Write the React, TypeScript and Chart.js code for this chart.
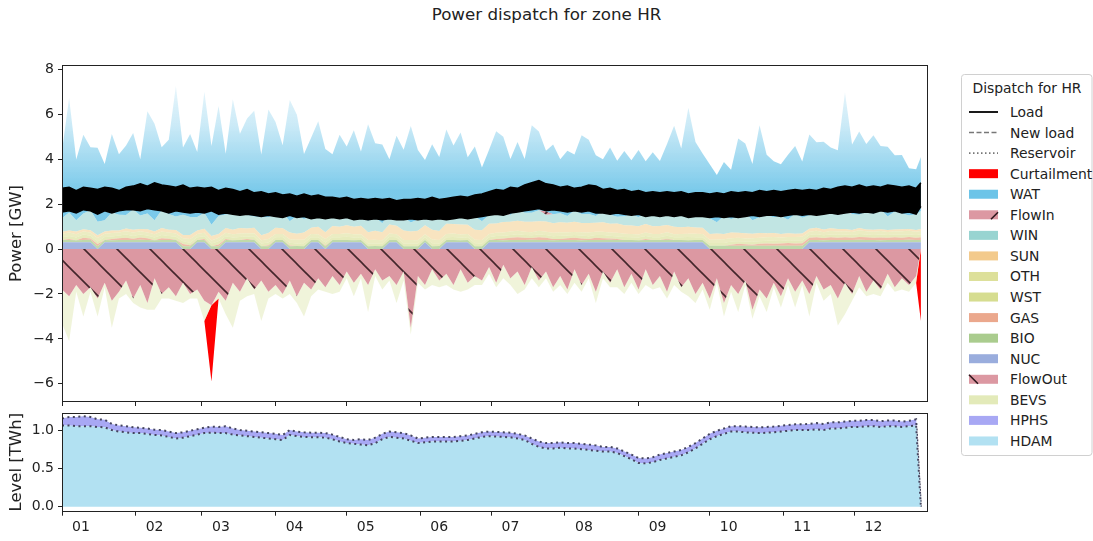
import React, { useEffect, useRef } from 'react';
import { Chart, registerables } from 'chart.js';
Chart.register(...registerables);

const FONT = "'DejaVu Sans', 'Liberation Sans', sans-serif";
const MONTH_LABELS = ['01', '02', '03', '04', '05', '06', '07', '08', '09', '10', '11', '12'];
const MONTH_START_DAYS = [0, 31, 59, 90, 120, 151, 181, 212, 243, 273, 304, 334];
const POWER_TICKS = [-6, -4, -2, 0, 2, 4, 6, 8];
const LEVEL_TICKS = [0, 0.5, 1.0];
const DAY_STEP = 3;
const LAST_DAY = 362;

// ---- Positive generation stack (GW), 3-day samples ----
const NUC = [.3,.3,.3,.3,.3,0,.3,.3,.3,.3, .3,.3,.3,.3,.3,.3,.3,0,0,.3, .3,0,0,.3,.3,.3,.3,.3,0,0, .3,.3,0,0,0,.3,.3,0,.3,.3, .3,.3,.3,0,0,0,.3,.3,0,0, 0,.3,0,0,.3,.3,.3,.3,0,0, .3,.3,.3,.3,.3,.3,.3,.3,.3,.3, .3,.3,.3,.3,.3,.3,.3,.3,.3,.3, .3,.3,.3,.3,.3,.3,.3,.3,.3,.3, .3,0,0,0,0,0,0,0,0,0, 0,0,0,0,0,.3,.3,.3,.3,.3, .3,.3,.3,.3,.3,.3,.3,.3,.3,.3, .3,.3];
const BIO = [.10,.10,.09,.10,.11,.12,.10,.09,.10,.10, .10,.11,.10,.09,.10,.10,.11,.12,.12,.10, .10,.12,.12,.10,.09,.10,.10,.11,.12,.12, .10,.10,.12,.13,.12,.10,.10,.12,.10,.10, .10,.09,.10,.12,.13,.12,.10,.10,.12,.12, .12,.10,.12,.13,.10,.10,.09,.10,.12,.12, .10,.10,.09,.10,.10,.10,.11,.10,.10,.09, .10,.10,.10,.09,.10,.10,.10,.11,.10,.10, .10,.09,.10,.10,.10,.11,.10,.10,.09,.10, .10,.14,.15,.15,.14,.15,.15,.14,.15,.15, .15,.14,.15,.15,.14,.10,.10,.09,.10,.10, .10,.10,.11,.10,.10,.09,.10,.10,.10,.11, .10,.10];
const GAS = [0,.05,0,.10,.06,.10,0,.05,.08,.10, .06,.10,.08,0,.08,.06,0,.10,.05,0, .04,0,.08,.05,0,0,.04,0,0,.05, 0,0,.04,0,0,0,0,.04,0,0, 0,0,0,0,0,0,0,0,0,0, 0,0,0,0,0,0,0,0,0,0, 0,.05,.08,.10,.12,.10,.08,.12,.10,.06, .05,.08,.10,.08,.05,.10,.08,.06,.04,0, 0,0,.04,0,0,.05,0,0,0,0, 0,0,0,0,.05,.08,.06,.05,.08,.10, .08,.10,.12,.10,.12,.10,.12,.10,.12,.10, .12,.10,.12,.12,.10,.12,.10,.12,.10,.12, .10,.12];
const WST = [.12,.13,.12,.14,.12,.11,.13,.12,.12,.14, .12,.13,.12,.12,.14,.12,.13,.12,.11,.12, .13,.12,.14,.12,.12,.13,.12,.14,.12,.12, .12,.13,.12,.12,.14,.12,.12,.13,.12,.12, .14,.12,.12,.13,.12,.12,.14,.12,.12,.13, .12,.12,.14,.12,.12,.13,.12,.12,.14,.12, .12,.13,.12,.12,.14,.12,.12,.13,.12,.12, .14,.12,.12,.13,.12,.12,.14,.12,.12,.13, .12,.12,.14,.12,.12,.13,.12,.12,.14,.12, .12,.13,.12,.12,.14,.12,.12,.13,.12,.12, .14,.12,.12,.13,.12,.12,.14,.12,.12,.13, .12,.12,.14,.12,.12,.13,.12,.12,.14,.12, .12,.13];
const OTH = [.15,.16,.15,.14,.15,.16,.15,.15,.14,.15, .16,.15,.14,.15,.16,.15,.15,.14,.16,.15, .15,.14,.16,.15,.15,.16,.14,.15,.15,.16, .15,.14,.15,.16,.15,.15,.14,.16,.15,.15, .16,.15,.14,.15,.16,.15,.15,.14,.16,.15, .15,.14,.16,.15,.15,.16,.14,.15,.15,.16, .15,.14,.15,.16,.15,.15,.14,.16,.15,.15, .16,.15,.14,.15,.16,.15,.15,.14,.16,.15, .15,.14,.16,.15,.15,.16,.14,.15,.15,.16, .15,.14,.15,.16,.15,.15,.14,.16,.15,.15, .16,.15,.14,.15,.16,.15,.15,.14,.16,.15, .15,.14,.16,.15,.15,.16,.14,.15,.15,.16, .15,.15];
const SUN = [.10,.08,.12,.10,.09,.12,.10,.11,.08,.12, .12,.10,.14,.12,.15,.13,.16,.14,.18,.15, .18,.20,.17,.22,.20,.24,.21,.25,.22,.26, .28,.25,.30,.27,.32,.28,.33,.30,.35,.32, .36,.33,.38,.35,.40,.36,.40,.38,.42,.38, .42,.40,.44,.40,.45,.42,.44,.41,.45,.43, .45,.42,.46,.43,.45,.44,.46,.42,.45,.43, .44,.42,.45,.41,.43,.40,.42,.39,.41,.38, .38,.36,.37,.34,.35,.32,.33,.30,.31,.28, .28,.26,.27,.24,.25,.22,.23,.20,.21,.18, .18,.16,.17,.15,.15,.13,.14,.12,.12,.11, .10,.09,.10,.08,.09,.08,.09,.08,.09,.08, .08,.09];
const WIN = [.6,.8,.5,.7,.9,.6,.5,.8,.7,.6, .9,.6,.7,.5,.8,.7,.6,.9,.8,.6, .7,.5,.8,.6,.7,.9,.6,.5,.8,.7, .6,.7,.5,.8,.6,.5,.7,.6,.5,.6, .5,.6,.4,.5,.6,.4,.5,.5,.6,.4, .5,.4,.5,.6,.4,.5,.4,.5,.6,.4, .4,.5,.4,.3,.5,.4,.4,.5,.3,.4, .4,.3,.5,.4,.4,.3,.5,.4,.3,.4, .5,.4,.5,.6,.4,.5,.6,.5,.7,.5, .6,.7,.5,.8,.6,.7,.9,.6,.7,.8, .7,.8,.6,.9,.7,.6,.8,.7,.9,.6, .8,.7,.6,.8,.7,.9,.6,.8,.7,.6, .7,.8];
const FLOWIN = [0,0,0,0,0,0,0,0,0,0, 0,0,0,0,0,0,0,0,0,0, 0,0,0,0,0,0,0,0,0,0, 0,0,0,0,0,0,0,0,0,0, 0,0,0,0,0,0,0,0,0,0, 0,0,0,0,0,0,0,0,0,0, 0,0,.1,0,0,0,0,0,.15,0, 0,0,0,0,0,0,0,0,0,0, 0,0,0,0,0,0,0,.1,0,0, 0,0,0,0,0,0,0,0,0,0, 0,0,0,0,0,0,0,0,0,0, .08,0,0,0,0,0,0,0,0,0, 0,0];
const WAT = [3.0,5.1,2.7,3.5,2.8,3.3,2.5,3.5,2.7,3.1, 3.4,2.5,4.55,4.3,2.8,3.3,5.8,3.0,3.7,2.9, 5.4,3.5,4.9,2.7,5.1,3.3,4.3,4.7,2.8,4.8, 4.1,3.0,5.4,4.5,2.9,3.5,4.0,3.1,2.7,3.5, 3.0,3.7,2.9,4.3,3.3,3.5,2.4,3.5,3.0,4.3, 3.1,2.5,3.3,2.7,3.8,3.0,3.7,2.5,3.1,2.4, 2.9,3.6,3.3,2.5,3.0,2.4,3.9,3.5,2.7,3.1, 2.4,2.9,2.5,3.5,3.3,2.7,2.3,3.0,2.5,2.9, 2.4,3.0,2.3,2.7,2.5,3.1,3.9,2.9,4.6,3.3, 2.7,2.4,2.1,2.4,2.2,3.5,3.1,2.5,4.1,2.7, 2.5,2.3,2.9,3.0,2.5,3.6,3.0,3.2,2.7,2.9, 5.2,3.1,3.7,3.0,3.5,2.8,3.1,2.5,2.6,2.1, 2.0,2.4];

// ---- Negative side (GW) ----
const FLOWOUT = [-1.8,-2.1,-1.6,-2.0,-1.7,-2.2,-1.5,-2.3,-1.9,-1.4, -2.2,-1.6,-2.4,-1.3,-2.0,-1.7,-2.1,-1.5,-2.0,-1.8, -2.3,-2.5,-1.9,-2.3,-1.5,-1.9,-1.3,-1.8,-1.4,-1.9, -1.6,-2.0,-1.4,-2.1,-1.5,-1.8,-1.3,-1.7,-1.2,-1.6, -1.0,-1.5,-1.1,-1.6,-0.9,-1.4,-1.2,-1.6,-1.0,-3.5, -1.2,-1.6,-0.9,-1.4,-1.1,-1.6,-0.9,-1.5,-1.2,-1.4, -0.8,-1.5,-0.7,-1.3,-1.0,-1.6,-0.8,-1.4,-1.0,-1.7, -1.2,-1.8,-0.9,-1.6,-1.1,-1.9,-1.0,-1.5,-0.9,-1.7, -1.1,-1.8,-0.9,-1.6,-1.2,-1.9,-1.0,-1.7,-1.3,-2.0, -1.5,-2.2,-1.3,-2.4,-1.6,-2.0,-1.4,-2.7,-1.8,-2.2, -1.5,-2.1,-1.3,-1.9,-1.4,-2.0,-1.2,-1.8,-1.6,-2.2, -1.5,-2.0,-1.2,-1.9,-1.4,-1.8,-1.1,-1.7,-1.3,-1.6, -1.2,0];
const BEVS = [-1.5,-2.0,-0.3,-1.0,-0.2,-0.8,-0.2,-1.2,-0.3,-0.6, -0.2,-1.0,-0.3,-1.4,-0.2,-0.5,-0.2,-0.9,-0.2,-0.4, -0.9,0,-0.3,-0.6,-2.0,-0.4,-0.8,-0.2,-1.8,-0.3, -0.4,-0.2,-0.6,-0.3,-1.5,-0.3,-0.5,-0.2,-0.8,-0.3, -0.3,-0.6,-0.2,-1.2,-0.3,-0.4,-0.2,-0.8,-0.4,-0.3, -0.3,-0.2,-0.7,-0.3,-0.5,-0.2,-1.0,-0.3,-0.4,-0.2, -0.3,-0.2,-0.6,-0.3,-1.0,-0.2,-0.5,-0.3,-0.3,-0.2, -0.4,-0.2,-0.6,-0.3,-0.2,-0.5,-0.3,-0.2,-0.8,-0.3, -0.4,-0.2,-0.7,-0.2,-0.5,-0.3,-0.6,-0.2,-0.8,-0.4, -0.3,-0.5,-0.2,-0.6,-0.3,-0.8,-0.2,-0.4,-0.3,-0.6, -0.2,-0.5,-0.3,-0.7,-0.2,-1.0,-0.3,-0.5,-0.4,-1.2, -1.4,-0.3,-0.5,-0.2,-0.6,-0.3,-0.4,-0.2,-0.5,-0.3, -0.3,0];
const CURTAILMENT = [0,0,0,0,0,0,0,0,0,0, 0,0,0,0,0,0,0,0,0,0, 0,-3.4,0,0,0,0,0,0,0,0, 0,0,0,0,0,0,0,0,0,0, 0,0,0,0,0,0,0,0,0,0, 0,0,0,0,0,0,0,0,0,0, 0,0,0,0,0,0,0,0,0,0, 0,0,0,0,0,0,0,0,0,0, 0,0,0,0,0,0,0,0,0,0, 0,0,0,0,0,0,0,0,0,0, 0,0,0,0,0,0,0,0,0,0, 0,0,0,0,0,0,0,0,0,0, 0,-3.2];

// ---- Load (daily min / max envelope, GW) ----
const LOAD_HIGH = [2.7,2.75,2.6,2.75,2.7,2.65,2.75,2.7,2.6,2.75, 2.8,2.9,2.8,2.95,2.85,2.8,2.75,2.85,2.7,2.75, 2.7,2.75,2.6,2.7,2.65,2.55,2.65,2.5,2.55,2.45, 2.5,2.4,2.45,2.35,2.45,2.35,2.4,2.3,2.3,2.25, 2.3,2.2,2.25,2.2,2.25,2.2,2.25,2.15,2.2,2.2, 2.25,2.2,2.3,2.2,2.25,2.3,2.35,2.3,2.4,2.45, 2.55,2.65,2.6,2.75,2.7,2.85,2.95,3.05,2.9,2.85, 2.75,2.8,2.7,2.75,2.85,2.8,2.65,2.7,2.6,2.65, 2.55,2.6,2.5,2.55,2.5,2.55,2.5,2.55,2.45,2.5, 2.5,2.45,2.5,2.45,2.55,2.5,2.55,2.5,2.6,2.55, 2.6,2.55,2.6,2.65,2.6,2.65,2.6,2.7,2.65,2.75, 2.8,2.75,2.85,2.75,2.8,2.75,2.85,2.8,2.75,2.8, 2.7,2.95];
const LOAD_LOW = [1.65,1.7,1.6,1.75,1.7,1.55,1.7,1.6,1.7,1.75, 1.75,1.7,1.8,1.75,1.7,1.6,1.7,1.65,1.6,1.65, 1.6,1.7,1.55,1.6,1.55,1.5,1.55,1.5,1.45,1.5, 1.45,1.4,1.5,1.4,1.45,1.35,1.4,1.35,1.4,1.35, 1.4,1.3,1.35,1.3,1.35,1.3,1.35,1.3,1.3,1.35, 1.3,1.35,1.3,1.35,1.3,1.35,1.4,1.35,1.4,1.45, 1.5,1.55,1.5,1.6,1.65,1.7,1.75,1.8,1.7,1.75, 1.7,1.65,1.7,1.65,1.7,1.6,1.6,1.55,1.6,1.55, 1.5,1.55,1.45,1.5,1.45,1.5,1.45,1.5,1.4,1.45, 1.45,1.4,1.45,1.4,1.45,1.4,1.45,1.5,1.45,1.5, 1.5,1.45,1.5,1.55,1.5,1.55,1.5,1.55,1.6,1.55, 1.6,1.65,1.6,1.65,1.6,1.7,1.65,1.7,1.6,1.65, 1.55,1.9];

// ---- Reservoir levels (TWh) ----
const HDAM = [1.06,1.06,1.05,1.05,1.05,1.04,1.035,1.0,0.98,0.97, 0.96,0.96,0.95,0.935,0.93,0.91,0.89,0.9,0.92,0.94, 0.96,0.965,0.96,0.96,0.94,0.93,0.92,0.91,0.9,0.89, 0.88,0.87,0.935,0.92,0.91,0.905,0.905,0.9,0.88,0.85, 0.83,0.82,0.81,0.80,0.83,0.88,0.91,0.90,0.89,0.86, 0.83,0.84,0.85,0.85,0.85,0.85,0.86,0.87,0.89,0.91, 0.92,0.915,0.91,0.905,0.89,0.87,0.82,0.78,0.76,0.76, 0.77,0.76,0.76,0.75,0.74,0.73,0.72,0.72,0.70,0.66, 0.62,0.57,0.565,0.58,0.61,0.63,0.65,0.67,0.71,0.76, 0.82,0.88,0.92,0.95,0.98,0.98,0.97,0.965,0.96,0.965, 0.97,0.98,0.99,1.0,1.0,1.0,1.01,1.0,1.02,1.02, 1.03,1.04,1.04,1.05,1.05,1.04,1.05,1.05,1.04,1.05, 1.06,0];
const HPHS = [.09,.11,.12,.13,.12,.10,.10,.08,.08,.08, .075,.07,.07,.07,.07,.07,.07,.07,.07,.07, .07,.08,.08,.09,.08,.07,.07,.07,.07,.07, .07,.065,.065,.06,.06,.06,.06,.06,.06,.06, .05,.05,.07,.07,.07,.07,.07,.07,.07,.07, .06,.06,.06,.06,.06,.06,.06,.06,.06,.06, .06,.06,.06,.06,.06,.06,.07,.07,.07,.07, .07,.07,.07,.07,.07,.07,.06,.06,.06,.06, .06,.065,.065,.065,.07,.07,.07,.07,.07,.07, .07,.07,.07,.07,.07,.07,.075,.075,.075,.075, .075,.075,.075,.075,.075,.08,.08,.08,.08,.08, .08,.08,.08,.08,.08,.075,.075,.075,.07,.07, .08,0];

const COLORS = {
  curt: '#ff0000', wat: '#6cc4e8', flow: '#dc98a2', win: '#98d4d1', sun: '#f3ca8c',
  oth: '#dde09a', wst: '#d6dd90', gas: '#eba88d', bio: '#aacc8e', nuc: '#9aaddd',
  bevs: '#e3eab9', hphs: '#a8a8f4', hdam: '#b2e1f2',
};
const PLOT_FILL = {
  nuc: 'rgba(154,173,221,0.9)', bio: 'rgba(170,204,142,0.75)', gas: 'rgba(235,168,141,0.75)',
  wst: 'rgba(214,221,144,0.6)', oth: 'rgba(221,224,154,0.6)', sun: 'rgba(243,210,150,0.6)',
  win: 'rgba(152,212,209,0.6)', bevs: 'rgba(226,234,182,0.5)',
};

const LEGEND_ITEMS = [
  { label: 'Load', kind: 'line', color: '#1a1a1a' },
  { label: 'New load', kind: 'dash', color: '#777777' },
  { label: 'Reservoir', kind: 'dot', color: '#777777' },
  { label: 'Curtailment', kind: 'patch', color: COLORS.curt },
  { label: 'WAT', kind: 'patch', color: COLORS.wat },
  { label: 'FlowIn', kind: 'fwd', color: COLORS.flow },
  { label: 'WIN', kind: 'patch', color: COLORS.win },
  { label: 'SUN', kind: 'patch', color: COLORS.sun },
  { label: 'OTH', kind: 'patch', color: COLORS.oth },
  { label: 'WST', kind: 'patch', color: COLORS.wst },
  { label: 'GAS', kind: 'patch', color: COLORS.gas },
  { label: 'BIO', kind: 'patch', color: COLORS.bio },
  { label: 'NUC', kind: 'patch', color: COLORS.nuc },
  { label: 'FlowOut', kind: 'back', color: COLORS.flow },
  { label: 'BEVS', kind: 'patch', color: COLORS.bevs },
  { label: 'HPHS', kind: 'patch', color: COLORS.hphs },
  { label: 'HDAM', kind: 'patch', color: COLORS.hdam },
];

const DAYS = WAT.map((_, i) => (i === WAT.length - 1 ? LAST_DAY : i * DAY_STEP));

function makeHatch(dir: 'back' | 'fwd', bg: string, line: string) {
  const s = 33;
  const c = document.createElement('canvas');
  c.width = s; c.height = s;
  const g = c.getContext('2d')!;
  g.fillStyle = bg; g.fillRect(0, 0, s, s);
  g.strokeStyle = line; g.lineWidth = 1.6;
  for (const k of [-s, 0, s]) {
    g.beginPath();
    if (dir === 'back') { g.moveTo(k - 2, -2); g.lineTo(k + s + 2, s + 2); }
    else { g.moveTo(k - 2, s + 2); g.lineTo(k + s + 2, -2); }
    g.stroke();
  }
  return g.createPattern(c, 'repeat');
}

const frame = {
  id: 'frame',
  afterDraw(chart: any) {
    const { ctx, chartArea: a } = chart;
    ctx.save();
    ctx.strokeStyle = '#222';
    ctx.lineWidth = 1;
    ctx.strokeRect(Math.round(a.left) + 0.5, Math.round(a.top) + 0.5, Math.round(a.right - a.left) - 1, Math.round(a.bottom - a.top) - 1);
    ctx.restore();
  },
};

function xScale(showLabels: boolean, height: number) {
  return {
    type: 'linear', min: 0, max: 365,
    afterBuildTicks: (s: any) => { s.ticks = MONTH_START_DAYS.map((v) => ({ value: v })); },
    afterFit: (s: any) => { s.height = height; s.paddingLeft = 0; s.paddingRight = 0; },
    ticks: {
      display: showLabels, autoSkip: false, maxRotation: 0, padding: 3, labelOffset: 19,
      color: '#222', font: { family: FONT, size: 14 },
      callback: (_v: any, i: number) => MONTH_LABELS[i],
    },
    grid: { display: true, drawOnChartArea: false, drawTicks: true, tickLength: 4, color: '#222' },
    border: { display: false },
  };
}

function yScale(min: number, max: number, ticks: number[], title: string, fmt: (v: number) => string) {
  return {
    type: 'linear', min, max,
    afterBuildTicks: (s: any) => { s.ticks = ticks.map((v) => ({ value: v })); },
    afterFit: (s: any) => { s.width = 62; s.paddingTop = 0; s.paddingBottom = 0; },
    ticks: { padding: 4, color: '#222', font: { family: FONT, size: 14 }, callback: (v: any) => fmt(Number(v)) },
    grid: { display: true, drawOnChartArea: false, drawTicks: true, tickLength: 4, color: '#222' },
    border: { display: false },
    title: { display: true, text: title, color: '#222', font: { family: FONT, size: 16.5 }, padding: { top: 7, bottom: 0 } },
  };
}

export default function App() {
  const topRef = useRef<HTMLCanvasElement>(null);
  const botRef = useRef<HTMLCanvasElement>(null);

  useEffect(() => {
    const hatchBack = makeHatch('back', COLORS.flow, 'rgba(50,25,30,0.9)');
    const hatchFwd = makeHatch('fwd', COLORS.flow, 'rgba(50,25,30,0.9)');
    const pts = (arr: number[]) => arr.map((y, i) => ({ x: DAYS[i], y }));

    const watGradient = (ctx: any) => {
      const chart = ctx.chart;
      const { chartArea, scales } = chart;
      if (!chartArea || !scales.y) return COLORS.wat;
      const y = scales.y;
      const g = chart.ctx.createLinearGradient(0, y.getPixelForValue(2.6), 0, y.getPixelForValue(7.5));
      g.addColorStop(0, 'rgba(108,196,232,0.9)');
      g.addColorStop(0.3, 'rgba(108,196,232,0.62)');
      g.addColorStop(0.6, 'rgba(108,196,232,0.35)');
      g.addColorStop(1, 'rgba(108,196,232,0.12)');
      return g;
    };

    const datasets: any[] = [];
    const posLayers = [
      { label: 'NUC', values: NUC, color: PLOT_FILL.nuc },
      { label: 'BIO', values: BIO, color: PLOT_FILL.bio },
      { label: 'GAS', values: GAS, color: PLOT_FILL.gas },
      { label: 'WST', values: WST, color: PLOT_FILL.wst },
      { label: 'OTH', values: OTH, color: PLOT_FILL.oth },
      { label: 'SUN', values: SUN, color: PLOT_FILL.sun },
      { label: 'WIN', values: WIN, color: PLOT_FILL.win },
      { label: 'FlowIn', values: FLOWIN, color: hatchFwd },
      { label: 'WAT', values: WAT, color: watGradient },
    ];
    let acc = DAYS.map(() => 0);
    posLayers.forEach((layer, k) => {
      acc = acc.map((v, i) => v + layer.values[i]);
      datasets.push({
        label: layer.label, data: pts(acc), backgroundColor: layer.color,
        borderWidth: 0, borderColor: 'rgba(0,0,0,0)', pointRadius: 0,
        fill: k === 0 ? 'origin' : '-1', order: 10,
      });
    });
    const negLayers = [
      { label: 'FlowOut', values: FLOWOUT, color: hatchBack },
      { label: 'BEVS', values: BEVS, color: PLOT_FILL.bevs },
      { label: 'Curtailment', values: CURTAILMENT, color: COLORS.curt },
    ];
    let neg = DAYS.map(() => 0);
    negLayers.forEach((layer, k) => {
      neg = neg.map((v, i) => v + layer.values[i]);
      datasets.push({
        label: layer.label, data: pts(neg), backgroundColor: layer.color,
        borderWidth: 0, borderColor: 'rgba(0,0,0,0)', pointRadius: 0,
        fill: k === 0 ? 'origin' : '-1', order: 10,
      });
    });
    datasets.push({ label: 'Load low', data: pts(LOAD_LOW), borderColor: '#000', borderWidth: 1.5, pointRadius: 0, fill: false, order: 0 });
    datasets.push({ label: 'Load', data: pts(LOAD_HIGH), borderColor: '#000', borderWidth: 1.5, backgroundColor: '#000', pointRadius: 0, fill: '-1', order: 0 });

    const top = new Chart(topRef.current!, {
      type: 'line',
      data: { datasets },
      plugins: [frame],
      options: {
        animation: false, responsive: false, maintainAspectRatio: false, events: [],
        layout: { padding: { top: 65, right: 17, left: 0, bottom: 0 } },
        plugins: { legend: { display: false }, tooltip: { enabled: false }, title: { display: false } },
        elements: { point: { radius: 0 }, line: { tension: 0 } },
        scales: {
          x: xScale(false, 6),
          y: yScale(-6.81, 8.19, POWER_TICKS, 'Power [GW]', (v) => String(v).replace('-', '\u2212')),
        },
      } as any,
    });

    const hphsTop = HDAM.map((v, i) => v + HPHS[i]);
    const bot = new Chart(botRef.current!, {
      type: 'line',
      data: {
        datasets: [
          { label: 'HDAM', data: pts(HDAM), backgroundColor: COLORS.hdam, borderColor: '#44445e', borderWidth: 2, borderDash: [2, 3.5], pointRadius: 0, fill: 'origin' },
          { label: 'HPHS', data: pts(hphsTop), backgroundColor: COLORS.hphs, borderColor: '#44445e', borderWidth: 2, borderDash: [2, 3.5], pointRadius: 0, fill: '-1' },
        ],
      },
      plugins: [frame],
      options: {
        animation: false, responsive: false, maintainAspectRatio: false, events: [],
        layout: { padding: { top: 4.7, right: 17, left: 0, bottom: 0 } },
        plugins: { legend: { display: false }, tooltip: { enabled: false }, title: { display: false } },
        elements: { point: { radius: 0 }, line: { tension: 0 } },
        scales: {
          x: xScale(true, 29.3),
          y: yScale(-0.065, 1.226, LEVEL_TICKS, 'Level [TWh]', (v) => v.toFixed(1)),
        },
      } as any,
    });

    return () => { top.destroy(); bot.destroy(); };
  }, []);

  const rowY = (k: number) => 38 + k * 20.56;

  return (
    <div style={{ position: 'absolute', left: 0, top: 0, width: 1093, height: 541, background: '#fff', fontFamily: FONT, overflow: 'hidden' }}>
      <div style={{ position: 'absolute', left: 0, top: 4, width: 1093, textAlign: 'center', fontSize: 16.7, lineHeight: '20px', color: '#222' }}>
        Power dispatch for zone HR
      </div>
      <canvas ref={topRef} width={945} height={408} style={{ position: 'absolute', left: 0, top: 0, width: 945, height: 408 }} />
      <canvas ref={botRef} width={945} height={133} style={{ position: 'absolute', left: 0, top: 408, width: 945, height: 133 }} />
      <svg width={132} height={383} style={{ position: 'absolute', left: 961, top: 74 }}>
        <rect x={0.5} y={0.5} width={130.5} height={381} rx={3} fill="#fff" stroke="#d0d0d0" />
        <text x={66} y={14} textAnchor="middle" dominantBaseline="central" fontSize={13.9} fill="#222" fontFamily={FONT}>Dispatch for HR</text>
        {LEGEND_ITEMS.map((it, k) => {
          const cy = rowY(k);
          let handle: any = null;
          if (it.kind === 'line') handle = <line x1={8} x2={37} y1={cy} y2={cy} stroke={it.color} strokeWidth={2} />;
          else if (it.kind === 'dash') handle = <line x1={8} x2={37} y1={cy} y2={cy} stroke={it.color} strokeWidth={1.6} strokeDasharray="5 2.5" />;
          else if (it.kind === 'dot') handle = <line x1={8} x2={37} y1={cy} y2={cy} stroke={it.color} strokeWidth={1.6} strokeDasharray="1.5 2.5" />;
          else if (it.kind === 'fwd') handle = (
            <g>
              <rect x={8} y={cy - 4.5} width={29} height={9} fill={it.color} />
              <line x1={30} y1={cy + 4.5} x2={37} y2={cy - 2.5} stroke="#2d161c" strokeWidth={1.6} />
            </g>
          );
          else if (it.kind === 'back') handle = (
            <g>
              <rect x={8} y={cy - 4.5} width={29} height={9} fill={it.color} />
              <line x1={8} y1={cy - 4.5} x2={17} y2={cy + 4.5} stroke="#2d161c" strokeWidth={1.6} />
            </g>
          );
          else handle = <rect x={8} y={cy - 4.5} width={29} height={9} fill={it.color} />;
          return (
            <g key={it.label}>
              {handle}
              <text x={49} y={cy} dominantBaseline="central" fontSize={13.9} fill="#222" fontFamily={FONT}>{it.label}</text>
            </g>
          );
        })}
      </svg>
    </div>
  );
}
